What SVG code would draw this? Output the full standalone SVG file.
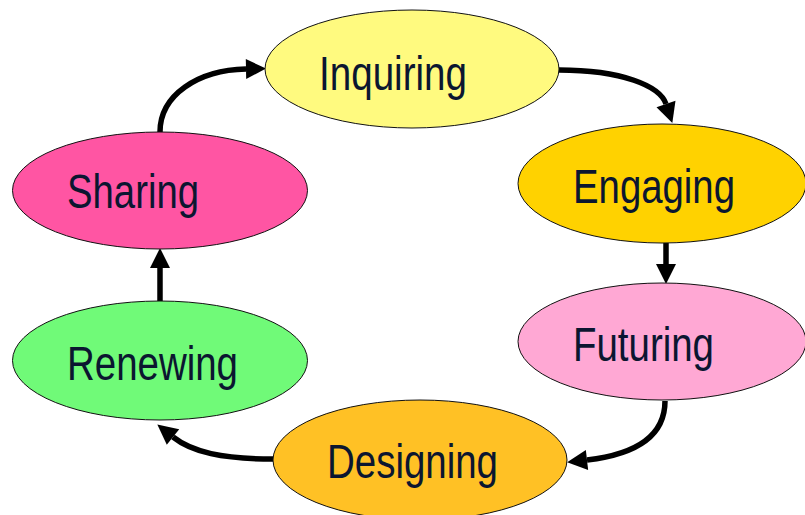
<svg xmlns="http://www.w3.org/2000/svg" width="805" height="515" viewBox="0 0 805 515">
<style>
.node ellipse{stroke:#111;stroke-width:1}
.node text{font-family:"Liberation Sans",Arial,sans-serif;font-size:49px;fill:#0B1630}
.conn path{fill:none;stroke:#000;stroke-width:5.5}
</style>
<defs>
<marker id="ah" markerUnits="userSpaceOnUse" markerWidth="20" markerHeight="20" refX="0" refY="9.5" viewBox="0 0 19 19" orient="auto" overflow="visible">
<path d="M0,0 L19,9.5 L0,19 z" fill="#000"/>
</marker>
</defs>
<rect width="805" height="515" fill="#fff"/>
<g class="conn">
<path d="M160,132 C160,95 198,70 246,69" marker-end="url(#ah)"/>
<path d="M559,70 C622,70 660,86 666,104" marker-end="url(#ah)"/>
<path d="M666,243 L666,264" marker-end="url(#ah)"/>
<path d="M665,401 C665,440 630,455 587,460" marker-end="url(#ah)"/>
<path d="M273,459 C222,459 192,452 173,437" marker-end="url(#ah)"/>
<path d="M160,301 L160,268" marker-end="url(#ah)"/>
</g>
<g id="inquiring" class="node">
<ellipse cx="412" cy="69" rx="147" ry="59" fill="#FFFA7F"/>
<text x="319" y="90" textLength="148" lengthAdjust="spacingAndGlyphs">Inquiring</text>
</g>
<g id="engaging" class="node">
<ellipse cx="662" cy="183.5" rx="144" ry="59.5" fill="#FFD200"/>
<text x="573" y="203" textLength="162" lengthAdjust="spacingAndGlyphs">Engaging</text>
</g>
<g id="futuring" class="node">
<ellipse cx="662" cy="341.5" rx="144" ry="58.5" fill="#FFA8D4"/>
<text x="573" y="361" textLength="141" lengthAdjust="spacingAndGlyphs">Futuring</text>
</g>
<g id="designing" class="node">
<ellipse cx="420" cy="460" rx="147" ry="60" fill="#FFC125"/>
<text x="327" y="478" textLength="171" lengthAdjust="spacingAndGlyphs">Designing</text>
</g>
<g id="renewing" class="node">
<ellipse cx="160" cy="360.5" rx="147.5" ry="59.5" fill="#70FA78"/>
<text x="67" y="380" textLength="171" lengthAdjust="spacingAndGlyphs">Renewing</text>
</g>
<g id="sharing" class="node">
<ellipse cx="160" cy="190.5" rx="147.5" ry="58.5" fill="#FF55A3"/>
<text x="67" y="208" textLength="132" lengthAdjust="spacingAndGlyphs">Sharing</text>
</g>
</svg>
